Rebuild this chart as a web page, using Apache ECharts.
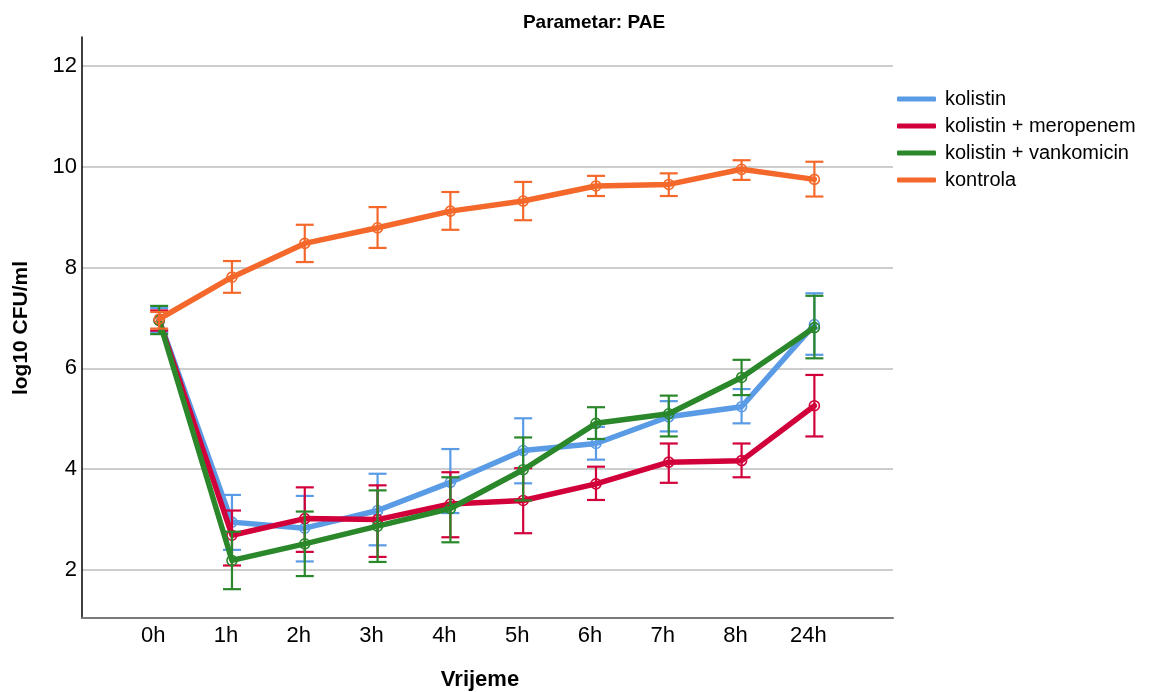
<!DOCTYPE html>
<html>
<head>
<meta charset="utf-8">
<script src="https://cdn.jsdelivr.net/npm/echarts@6/dist/echarts.min.js"></script>
<style>
  html, body { margin: 0; padding: 0; background: #fff; }
  #chart { width: 1175px; height: 692px; }
</style>
</head>
<body>
<div id="chart"></div>
<script>
const categories = ['0h', '1h', '2h', '3h', '4h', '5h', '6h', '7h', '8h', '24h'];
const yTicks = [2, 4, 6, 8, 10, 12];

const seriesNames = ['kolistin', 'kolistin + meropenem', 'kolistin + vankomicin', 'kontrola'];

const kolistinMean = [6.96, 2.95, 2.83, 3.18, 3.74, 4.37, 4.51, 5.04, 5.24, 6.87];
const kolistinLow  = [6.72, 2.40, 2.17, 2.49, 3.13, 3.72, 4.19, 4.75, 4.91, 6.27];
const kolistinHigh = [7.20, 3.49, 3.47, 3.91, 4.40, 5.01, 4.84, 5.35, 5.59, 7.49];

const meropenemMean = [6.95, 2.69, 3.02, 3.00, 3.31, 3.38, 3.71, 4.14, 4.17, 5.26];
const meropenemLow  = [6.75, 2.09, 2.36, 2.26, 2.65, 2.73, 3.39, 3.73, 3.84, 4.65];
const meropenemHigh = [7.15, 3.18, 3.64, 3.68, 3.94, 4.02, 4.05, 4.51, 4.51, 5.87];

const vankomicinMean = [6.95, 2.19, 2.52, 2.87, 3.22, 3.99, 4.91, 5.10, 5.82, 6.81];
const vankomicinLow  = [6.68, 1.62, 1.88, 2.16, 2.55, 3.38, 4.60, 4.65, 5.47, 6.20];
const vankomicinHigh = [7.24, 2.76, 3.16, 3.58, 3.84, 4.63, 5.23, 5.46, 6.17, 7.44];

const kontrolaMean = [6.98, 7.81, 8.48, 8.79, 9.12, 9.32, 9.62, 9.65, 9.95, 9.75];
const kontrolaLow  = [6.79, 7.50, 8.11, 8.39, 8.75, 8.94, 9.42, 9.42, 9.74, 9.41];
const kontrolaHigh = [7.12, 8.13, 8.85, 9.20, 9.50, 9.70, 9.82, 9.87, 10.13, 10.10];

const colors = ['#5A9BE6', '#D2003A', '#2A872A', '#F4692B'];
const FONT = 'Arial, "Liberation Sans", Helvetica, sans-serif';

const groups = [
  [kolistinMean, kolistinLow, kolistinHigh],
  [meropenemMean, meropenemLow, meropenemHigh],
  [vankomicinMean, vankomicinLow, vankomicinHigh],
  [kontrolaMean, kontrolaLow, kontrolaHigh]
];

function errRender(color) {
  return function (params, api) {
    const x = api.value(0), lo = api.value(1), hi = api.value(2);
    const pLo = api.coord([x, lo]);
    const pHi = api.coord([x, hi]);
    const hw = 9;
    const style = { stroke: color, lineWidth: 2.2 };
    return {
      type: 'group',
      children: [
        { type: 'line', shape: { x1: pLo[0], y1: pHi[1], x2: pLo[0], y2: pLo[1] }, style: style },
        { type: 'line', shape: { x1: pLo[0] - hw, y1: pHi[1], x2: pLo[0] + hw, y2: pHi[1] }, style: style },
        { type: 'line', shape: { x1: pLo[0] - hw, y1: pLo[1], x2: pLo[0] + hw, y2: pLo[1] }, style: style }
      ]
    };
  };
}

const series = [];
groups.forEach(function (g, i) {
  const mean = g[0], low = g[1], high = g[2];
  series.push({
    name: seriesNames[i],
    type: 'custom',
    renderItem: errRender(colors[i]),
    encode: { x: 0, y: [1, 2] },
    data: categories.map(function (c, k) { return [k, low[k], high[k]]; }),
    z: 2 + i * 2,
    silent: true
  });
  series.push({
    name: seriesNames[i],
    type: 'line',
    data: categories.map(function (c, k) { return [k, mean[k]]; }),
    symbol: 'circle',
    symbolSize: 10,
    itemStyle: { color: 'transparent', borderColor: colors[i], borderWidth: 1.6 },
    lineStyle: { color: colors[i], width: 5.5, cap: 'round', join: 'round' },
    z: 3 + i * 2,
    animation: false
  });
});

const chart = echarts.init(document.getElementById('chart'), null, { renderer: 'canvas' });
chart.setOption({
  animation: false,
  backgroundColor: '#ffffff',
  grid: { left: 82, right: 282, top: 37, bottom: 74, containLabel: false },
  legend: {
    left: 892,
    top: 84,
    orient: 'vertical',
    icon: 'roundRect',
    itemWidth: 39,
    itemHeight: 5,
    itemGap: 7,
    selectedMode: false,
    textStyle: { fontSize: 20, fontFamily: FONT, color: '#000', lineHeight: 20, padding: [0, 0, 0, 4] },
    data: seriesNames.map(function (n, i) { return { name: n, itemStyle: { color: colors[i] } }; })
  },
  xAxis: {
    type: 'value',
    min: -1.06,
    max: 10.08,
    axisLine: { show: true, onZero: false, lineStyle: { color: '#7a7a7a', width: 2 } },
    axisTick: { show: false, customValues: categories.map(function (c, k) { return k; }) },
    splitLine: { show: false },
    axisLabel: {
      customValues: categories.map(function (c, k) { return k; }),
      formatter: function (v) { return categories[Math.round(v)]; },
      fontSize: 22,
      fontFamily: FONT,
      color: '#000',
      margin: 7,
      padding: [0, 12, 0, 0]
    }
  },
  yAxis: {
    type: 'value',
    min: 1.048,
    max: 12.575,
    axisLine: { show: true, onZero: false, lineStyle: { color: '#000', width: 1.5 } },
    axisTick: { show: false, customValues: yTicks },
    splitLine: { show: true, lineStyle: { color: '#bdbdbd', width: 1.5 } },
    axisLabel: {
      customValues: yTicks,
      fontSize: 22,
      fontFamily: FONT,
      color: '#000',
      margin: 5
    }
  },
  graphic: [
    {
      type: 'text', x: 594, y: 23,
      style: { text: 'Parametar: PAE', font: 'bold 19px ' + FONT, fill: '#000', textAlign: 'center', textVerticalAlign: 'middle' }
    },
    {
      type: 'text', x: 480, y: 680,
      style: { text: 'Vrijeme', font: 'bold 22px ' + FONT, fill: '#000', textAlign: 'center', textVerticalAlign: 'middle' }
    },
    {
      type: 'text', x: 21, y: 328, rotation: Math.PI / 2,
      style: { text: 'log10 CFU/ml', font: 'bold 21px ' + FONT, fill: '#000', textAlign: 'center', textVerticalAlign: 'middle' }
    }
  ],
  series: series
});
</script>
</body>
</html>
